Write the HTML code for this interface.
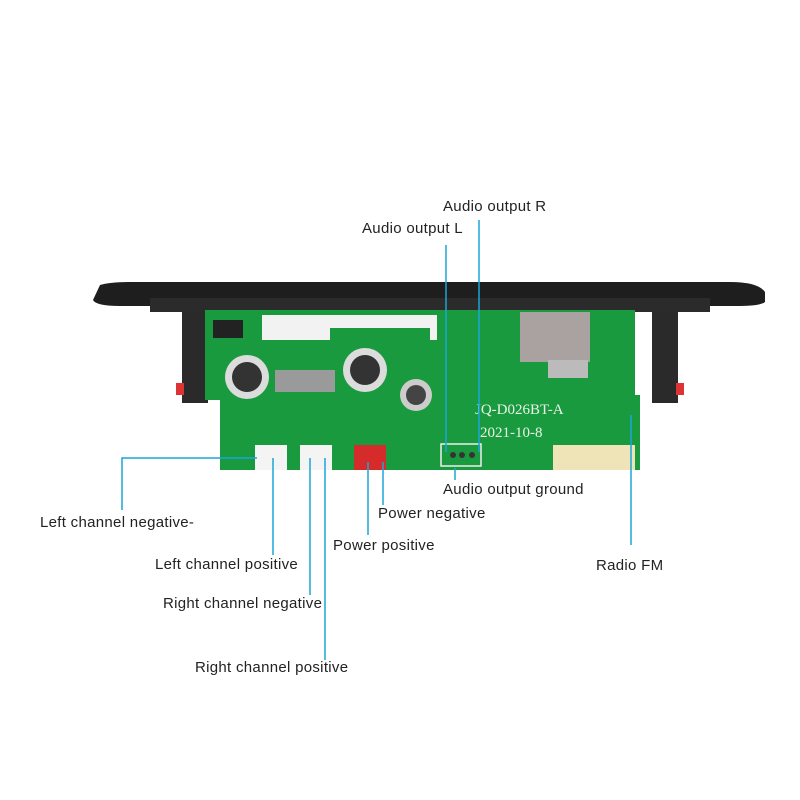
<!DOCTYPE html>
<html><head><style>
body{margin:0;width:800px;height:800px;background:#fff;position:relative;overflow:hidden;font-family:"Liberation Sans",sans-serif}
.t{position:absolute;font-size:15px;letter-spacing:0.3px;color:#222;white-space:nowrap;line-height:16px}
</style></head><body>
<svg width="800" height="800" style="position:absolute;left:0;top:0">
<rect x="182" y="308" width="26" height="95" fill="#2a2a2a"/>
<rect x="652" y="308" width="26" height="95" fill="#2a2a2a"/>
<rect x="176" y="383" width="8" height="12" fill="#d33"/>
<rect x="676" y="383" width="8" height="12" fill="#d33"/>
<path d="M100 285 Q110 282 130 282 L730 282 Q758 282 765 292 L765 302 Q760 306 740 306 L120 306 Q96 306 93 300 Z" fill="#1e1e1e"/>
<rect x="150" y="298" width="560" height="14" fill="#2b2b2b"/>
<path d="M205 310 L635 310 L635 395 L640 395 L640 470 L220 470 L220 400 L205 400 Z" fill="#1a9a3e"/>
<rect x="262" y="315" width="175" height="25" fill="#f2f2f2"/>
<rect x="330" y="328" width="100" height="14" fill="#1a9a3e"/>
<rect x="520" y="312" width="70" height="50" fill="#a9a2a0"/>
<rect x="548" y="360" width="40" height="18" fill="#bbb"/>
<circle cx="247" cy="377" r="22" fill="#dcdcdc"/><circle cx="247" cy="377" r="15" fill="#333"/>
<circle cx="365" cy="370" r="22" fill="#dcdcdc"/><circle cx="365" cy="370" r="15" fill="#333"/>
<circle cx="416" cy="395" r="16" fill="#ccc"/><circle cx="416" cy="395" r="10" fill="#444"/>
<rect x="275" y="370" width="60" height="22" fill="#9a9a9a"/>
<rect x="213" y="320" width="30" height="18" fill="#222"/>
<rect x="553" y="445" width="82" height="25" fill="#efe3b8"/>
<rect x="255" y="445" width="32" height="25" fill="#f4f4f4"/>
<rect x="300" y="445" width="32" height="25" fill="#f4f4f4"/>
<rect x="354" y="445" width="32" height="25" fill="#d62b2b"/>
<rect x="441" y="444" width="40" height="22" fill="none" stroke="#eee" stroke-width="1.5"/>
<circle cx="453" cy="455" r="3" fill="#333"/><circle cx="462" cy="455" r="3" fill="#333"/><circle cx="472" cy="455" r="3" fill="#333"/>
<text x="475" y="414" font-family="Liberation Serif" font-size="15" fill="#e8f5e8">JQ-D026BT-A</text>
<text x="480" y="437" font-family="Liberation Serif" font-size="15" fill="#e8f5e8">2021-10-8</text>
<g stroke="#1aa6d6" stroke-width="1.5" fill="none">
<path d="M257 458 H122 V510"/>
<path d="M273 458 V555"/>
<path d="M310 458 V595"/>
<path d="M325 458 V660"/>
<path d="M368 462 V535"/>
<path d="M383 462 V505"/>
<path d="M455 468 V480"/>
<path d="M446 245 V452"/>
<path d="M479 220 V452"/>
<path d="M631 415 V545"/>
</g>
</svg>
<div class="t" style="left:443px;top:199px">Audio output R</div>
<div class="t" style="left:362px;top:221px">Audio output L</div>
<div class="t" style="left:443px;top:482px">Audio output ground</div>
<div class="t" style="left:378px;top:506px">Power negative</div>
<div class="t" style="left:333px;top:538px">Power positive</div>
<div class="t" style="left:40px;top:515px">Left channel negative-</div>
<div class="t" style="left:155px;top:557px">Left channel positive</div>
<div class="t" style="left:163px;top:596px">Right channel negative</div>
<div class="t" style="left:195px;top:660px">Right channel positive</div>
<div class="t" style="left:596px;top:558px">Radio FM</div>
</body></html>
